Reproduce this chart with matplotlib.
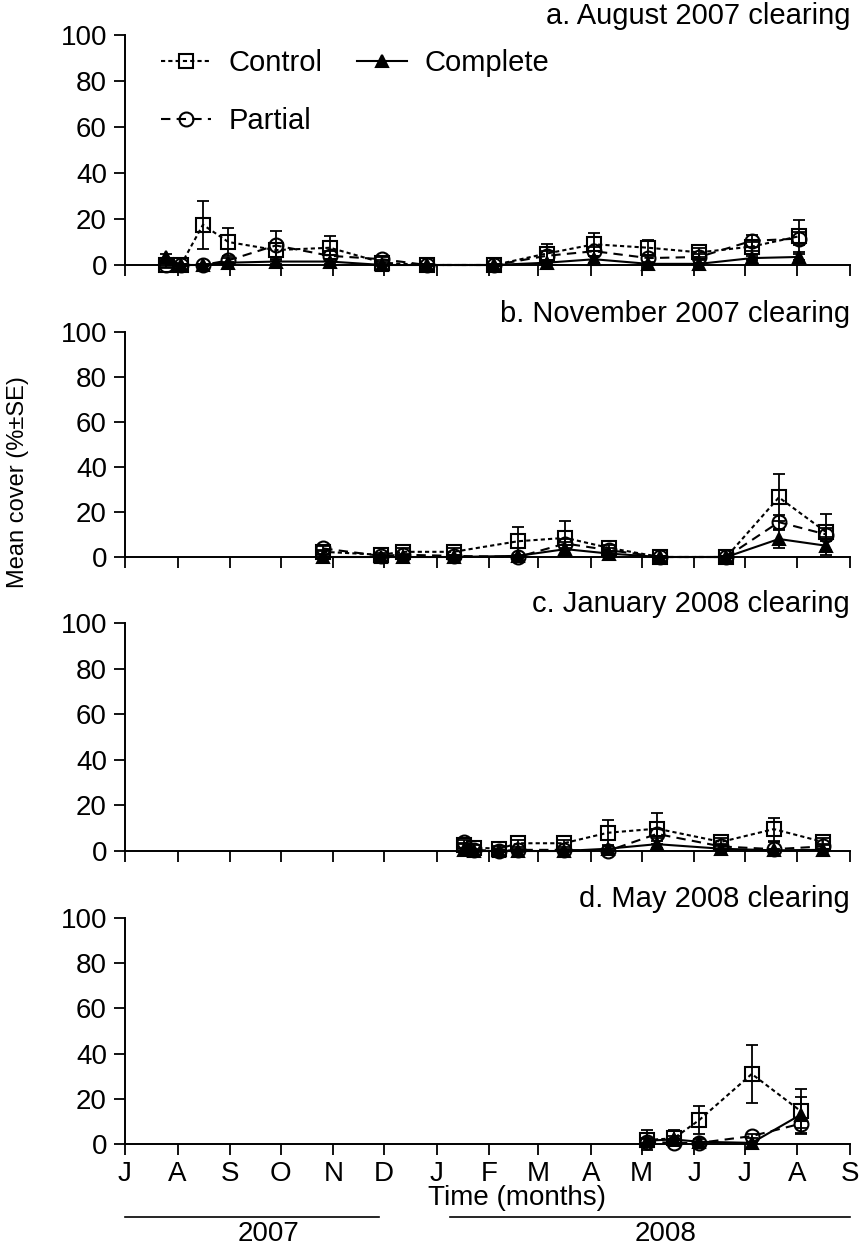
import matplotlib
matplotlib.use("Agg")
import matplotlib.pyplot as plt
import pandas as pd
from matplotlib.transforms import blended_transform_factory

plt.rcParams["font.family"] = ["Liberation Sans", "DejaVu Sans"]
plt.rcParams["font.size"] = 20

# Axis range and month ticks
X_START = "2007-07-01"
X_END = "2008-09-01"
MONTH_LABELS = ["J", "A", "S", "O", "N", "D", "J", "F", "M", "A", "M", "J", "J", "A", "S"]
Y_TICKS = [0, 20, 40, 60, 80, 100]

# Year bars under the bottom panel: (label, line start, line end, label position)
YEAR_2007 = ("2007", "2007-07-01", "2007-11-28", "2007-09-24")
YEAR_2008 = ("2008", "2008-01-09", "2008-09-01", "2008-05-15")

# a. August 2007 clearing
A_TITLE = "a. August 2007 clearing"
A_DATES = ["2007-07-25", "2007-08-03", "2007-08-16", "2007-08-31", "2007-09-28",
           "2007-10-30", "2007-11-30", "2007-12-26", "2008-02-04", "2008-03-06",
           "2008-04-03", "2008-05-05", "2008-06-04", "2008-07-05", "2008-08-02"]
A_CONTROL = [0, 0, 17.5, 10, 6.5, 7.5, 1, 0, 0, 5, 9, 7.5, 5.5, 8, 12.5]
A_CONTROL_SE = [1.5, 0.5, 10.5, 6, 3, 5, 1, 0.5, 0.5, 4, 5, 3.5, 2, 2, 7]
A_COMPLETE = [3.5, 0, 0, 1, 1.5, 1.5, 0, 0, 0, 1, 2.5, 0.5, 0.5, 3, 3.5]
A_COMPLETE_SE = [1.5, 0.5, 0.5, 0.5, 1, 1, 0.5, 0.5, 0.5, 1, 1.5, 0.5, 0.5, 1, 1.5]
A_PARTIAL = [0, 0, 0, 2, 8.5, 4, 2.5, 0, 0, 4, 6, 3, 3.5, 10.5, 11.5]
A_PARTIAL_SE = [1, 0.5, 0.5, 1, 6.5, 2, 1, 0.5, 0.5, 2, 2, 1.5, 1.5, 2.5, 3]

# b. November 2007 clearing
B_TITLE = "b. November 2007 clearing"
B_DATES = ["2007-10-26", "2007-11-29", "2007-12-12", "2008-01-11", "2008-02-18",
           "2008-03-17", "2008-04-12", "2008-05-12", "2008-06-20", "2008-07-21",
           "2008-08-18"]
B_CONTROL = [2.3, 1, 2.3, 2.3, 7, 8.5, 4, 0, 0, 26.5, 11]
B_CONTROL_SE = [1, 1, 1.5, 1.5, 6.5, 7.5, 1.5, 0.5, 0.5, 10.5, 8]
B_COMPLETE = [0, 0, 0, 0, 0.5, 3.5, 1.5, 0, 0, 8, 5]
B_COMPLETE_SE = [1, 0.5, 0.5, 0.5, 0.5, 3, 1, 0.5, 0.5, 4, 4]
B_PARTIAL = [3.8, 0.5, 1, 0.5, 0, 6, 3, 0, 0, 15.5, 10]
B_PARTIAL_SE = [1, 0.5, 0.5, 0.5, 0.5, 2, 1, 0.5, 0.5, 3, 3]

# c. January 2008 clearing
C_TITLE = "c. January 2008 clearing"
C_DATES = ["2008-01-17", "2008-01-23", "2008-02-07", "2008-02-18", "2008-03-16",
           "2008-04-11", "2008-05-10", "2008-06-17", "2008-07-18", "2008-08-16"]
C_CONTROL = [2.5, 1.5, 1, 3.4, 3.4, 8, 9.8, 4, 9.6, 4]
C_CONTROL_SE = [1, 1, 1, 1.5, 1.5, 5.5, 6.8, 1.5, 5, 1.5]
C_COMPLETE = [0.5, 0, 0, 0, 0, 1, 3, 1, 0.3, 0.5]
C_COMPLETE_SE = [0.5, 0.5, 0.5, 0.5, 0.5, 1, 1.5, 1, 0.5, 0.5]
C_PARTIAL = [4, 0.5, 0, 0.5, 0.5, 0, 7.5, 2, 0.8, 2]
C_PARTIAL_SE = [1, 0.5, 0.5, 0.5, 0.5, 0.5, 2, 1, 3, 1]

# d. May 2008 clearing
D_TITLE = "d. May 2008 clearing"
D_DATES = ["2008-05-04", "2008-05-20", "2008-06-04", "2008-07-05", "2008-08-03"]
D_CONTROL = [1.8, 2.5, 10.6, 31, 14.5]
D_CONTROL_SE = [4.5, 3.5, 6, 13, 10]
D_COMPLETE = [1.5, 2, 1, 0.5, 13]
D_COMPLETE_SE = [1, 1.5, 1, 0.5, 8]
D_PARTIAL = [1, 0.5, 0.5, 3.5, 9]
D_PARTIAL_SE = [1, 1.5, 0.5, 1, 2]

PANELS = [
    (A_TITLE, A_DATES, A_CONTROL, A_CONTROL_SE, A_COMPLETE, A_COMPLETE_SE, A_PARTIAL, A_PARTIAL_SE),
    (B_TITLE, B_DATES, B_CONTROL, B_CONTROL_SE, B_COMPLETE, B_COMPLETE_SE, B_PARTIAL, B_PARTIAL_SE),
    (C_TITLE, C_DATES, C_CONTROL, C_CONTROL_SE, C_COMPLETE, C_COMPLETE_SE, C_PARTIAL, C_PARTIAL_SE),
    (D_TITLE, D_DATES, D_CONTROL, D_CONTROL_SE, D_COMPLETE, D_COMPLETE_SE, D_PARTIAL, D_PARTIAL_SE),
]

# line/marker style per treatment
STYLES = {
    "Control": dict(ls=(0, (2.0, 1.5)), marker="s", ms=10, mfc="none"),
    "Complete": dict(ls="-", marker="^", ms=9, mfc="black"),
    "Partial": dict(ls=(0, (4.5, 3)), marker="o", ms=10, mfc="none"),
}

W, H = 863, 1249
AX_LEFT, AX_RIGHT = 125, 850
AX_ROWS = [(35, 265), (332, 557), (623, 851), (918, 1144)]  # (top, bottom) in px

fig = plt.figure(figsize=(W / 100, H / 100), dpi=100)
month_ticks = pd.date_range(X_START, X_END, freq="MS")

axes = []
for top, bottom in AX_ROWS:
    ax = fig.add_axes([AX_LEFT / W, 1 - bottom / H, (AX_RIGHT - AX_LEFT) / W, (bottom - top) / H])
    axes.append(ax)

for i, (ax, panel) in enumerate(zip(axes, PANELS)):
    title, dates, ctrl, ctrl_se, comp, comp_se, part, part_se = panel
    x = pd.to_datetime(dates)
    handles = {}
    for name, vals, se in [("Control", ctrl, ctrl_se), ("Complete", comp, comp_se), ("Partial", part, part_se)]:
        ax.errorbar(x, vals, yerr=se, fmt="none", ecolor="black", elinewidth=1.3,
                    capsize=4.5, capthick=1.3, clip_on=False, zorder=3)
        ln, = ax.plot(x, vals, color="black", lw=1.5, mec="black", mew=1.5,
                      clip_on=False, zorder=4, label=name, **STYLES[name])
        handles[name] = ln

    ax.set_xlim(pd.Timestamp(X_START), pd.Timestamp(X_END))
    ax.set_ylim(0, 100)
    ax.set_yticks(Y_TICKS)
    ax.set_xticks(month_ticks)
    if i == len(PANELS) - 1:
        ax.set_xticklabels(MONTH_LABELS)
    else:
        ax.set_xticklabels([])
    for side in ("top", "right"):
        ax.spines[side].set_visible(False)
    for side in ("left", "bottom"):
        ax.spines[side].set_linewidth(1.4)
    ax.tick_params(direction="out", length=8, width=1.3, labelsize=20)
    ax.tick_params(axis="y", pad=5)
    ax.tick_params(axis="x", pad=4)

    ax.text(1.0, 1.02, title, transform=ax.transAxes, ha="right", va="bottom", fontsize=21)

    if i == 0:
        order = ["Control", "Partial", "Complete"]
        ax.legend([handles[k] for k in order], order, loc="upper left",
                  bbox_to_anchor=(0.05, 0.94), ncol=2, frameon=False, fontsize=21,
                  handlelength=1.7, handletextpad=0.6, columnspacing=1.2,
                  labelspacing=1.05, borderpad=0, borderaxespad=0)

# year bars and axis title under the bottom panel
ax = axes[-1]
trans = blended_transform_factory(ax.transData, ax.transAxes)
for label, start, end, mid in (YEAR_2007, YEAR_2008):
    ax.plot([pd.Timestamp(start), pd.Timestamp(end)], [-0.323, -0.323], color="black",
            lw=1.2, transform=trans, clip_on=False)
    ax.text(pd.Timestamp(mid), -0.40, label, transform=trans, ha="center", va="center", fontsize=20)

ax.set_xlabel("Time (months)", fontsize=20)
ax.xaxis.set_label_coords(0.541, -0.18)

fig.text(18 / W, 1 - 482 / H, "Mean cover (%\u00b1SE)", rotation=90, ha="center", va="center", fontsize=17)

fig.savefig("out.png", dpi=100)
